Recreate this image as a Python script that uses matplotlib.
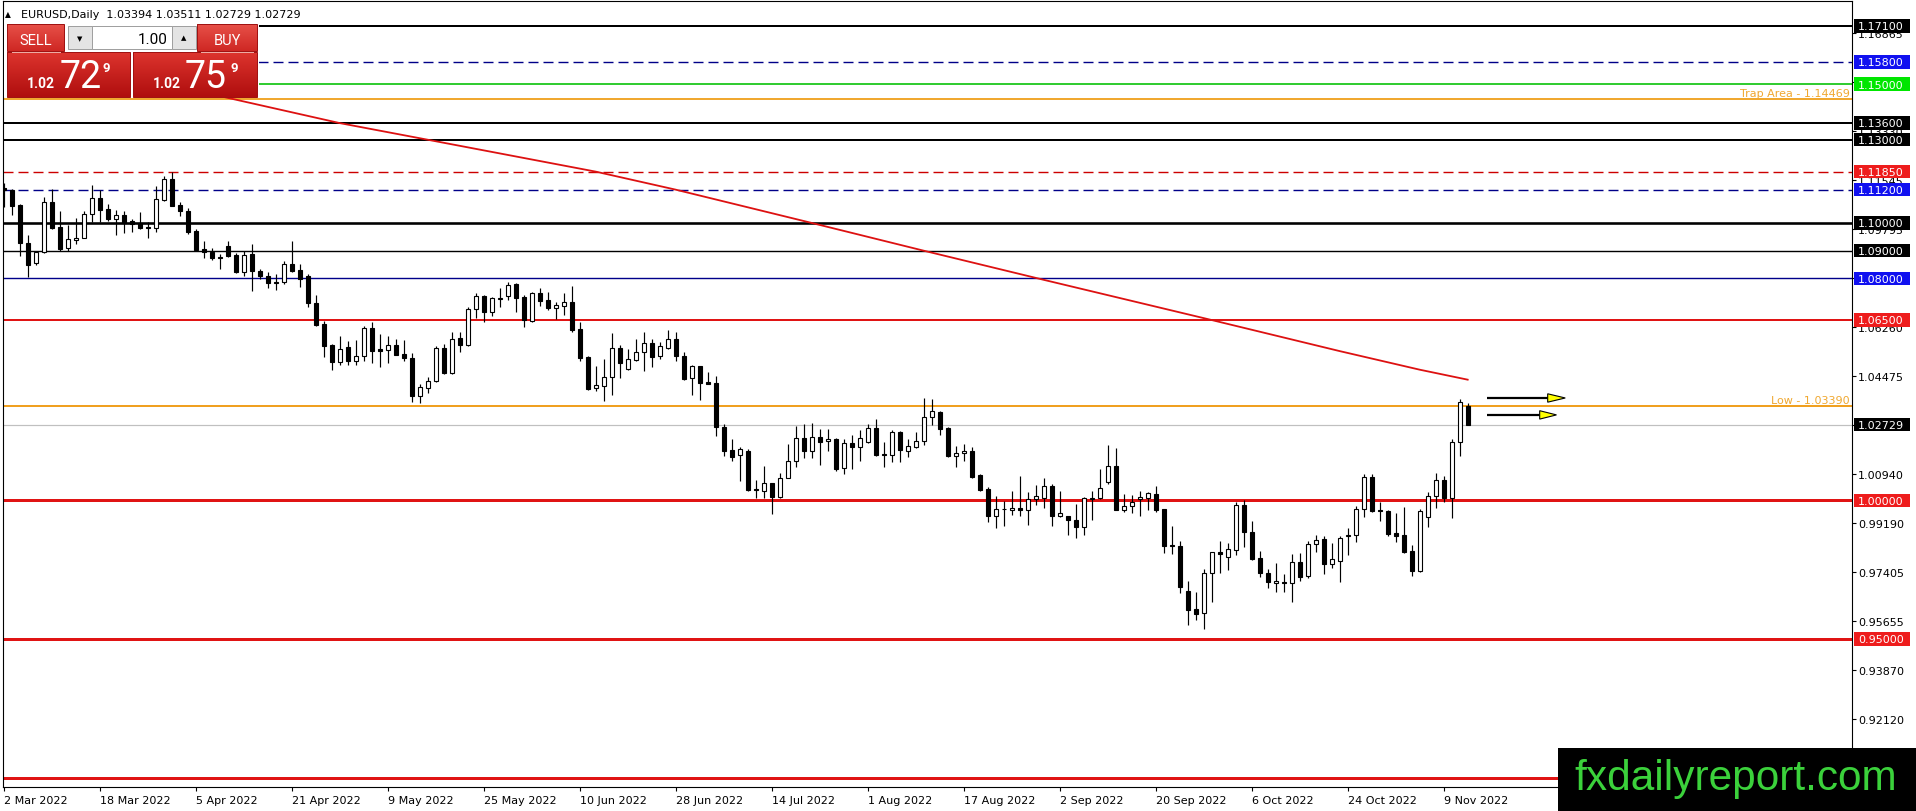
import matplotlib
matplotlib.use("Agg")
import matplotlib.pyplot as plt
import matplotlib.transforms as mtransforms
from matplotlib.patches import Rectangle, Polygon
import numpy as np

# ------------------------------------------------------------------ data
symbol_header = "EURUSD,Daily  1.03394 1.03511 1.02729 1.02729"

opens = [1.1125, 1.1119, 1.1066, 1.0928, 1.0854, 1.0894, 1.1074, 1.0984, 1.0911, 1.0940,
         1.0946, 1.1031, 1.1090, 1.1050, 1.1016, 1.1028, 1.1007, 1.0998, 1.0985, 1.0981,
         1.1084, 1.1158, 1.1065, 1.1042, 1.0971, 1.0906, 1.0896, 1.0877, 1.0918, 1.0884,
         1.0824, 1.0888, 1.0828, 1.0808, 1.0788, 1.0786, 1.0852, 1.0830, 1.0808, 1.0711,
         1.0636, 1.0561, 1.0498, 1.0552, 1.0504, 1.0519, 1.0620, 1.0546, 1.0543, 1.0560,
         1.0528, 1.0512, 1.0377, 1.0405, 1.0432, 1.0548, 1.0459, 1.0585, 1.0561, 1.0690,
         1.0736, 1.0679, 1.0727, 1.0735, 1.0780, 1.0732, 1.0648, 1.0747, 1.0722, 1.0692,
         1.0702, 1.0716, 1.0618, 1.0518, 1.0404, 1.0413, 1.0444, 1.0548, 1.0473, 1.0507,
         1.0534, 1.0566, 1.0519, 1.0549, 1.0582, 1.0519, 1.0440, 1.0483, 1.0425, 1.0422,
         1.0263, 1.0182, 1.0164, 1.0179, 1.0041, 1.0035, 1.0061, 1.0013, 1.0080, 1.0142,
         1.0224, 1.0179, 1.0227, 1.0213, 1.0221, 1.0115, 1.0206, 1.0194, 1.0212, 1.0260,
         1.0167, 1.0164, 1.0248, 1.0179, 1.0194, 1.0213, 1.0299, 1.0317, 1.0260, 1.0161,
         1.0171, 1.0178, 1.0091, 1.0041, 0.9942, 0.9967, 0.9964, 0.9972, 0.9965, 1.0005,
         1.0010, 1.0050, 0.9942, 0.9942, 0.9930, 0.9903, 1.0005, 1.0007, 1.0065, 1.0123,
         0.9966, 0.9978, 1.0005, 1.0010, 1.0022, 0.9969, 0.9839, 0.9837, 0.9672, 0.9608,
         0.9593, 0.9738, 0.9813, 0.9797, 0.9822, 0.9983, 0.9885, 0.9791, 0.9738, 0.9701,
         0.9706, 0.9702, 0.9777, 0.9726, 0.9843, 0.9861, 0.9771, 0.9783, 0.9873, 0.9875,
         0.9969, 1.0083, 0.9965, 0.9963, 0.9882, 0.9875, 0.9816, 0.9747, 0.9939, 1.0017,
         1.0073, 1.0009, 1.0209, 1.03394]

highs = [1.1144, 1.1122, 1.1068, 1.0957, 1.0897, 1.1092, 1.1122, 1.1042, 1.0993, 1.1017,
         1.1044, 1.1137, 1.1120, 1.1068, 1.1047, 1.1044, 1.1014, 1.1038, 1.1002, 1.1134,
         1.1170, 1.1182, 1.1077, 1.1053, 1.0978, 1.0936, 1.0909, 1.0888, 1.0936, 1.0893,
         1.0900, 1.0924, 1.0834, 1.0822, 1.0816, 1.0864, 1.0936, 1.0852, 1.0816, 1.0740,
         1.0648, 1.0563, 1.0591, 1.0576, 1.0579, 1.0630, 1.0642, 1.0600, 1.0591, 1.0582,
         1.0579, 1.0530, 1.0420, 1.0444, 1.0558, 1.0563, 1.0606, 1.0606, 1.0696, 1.0748,
         1.0740, 1.0732, 1.0764, 1.0786, 1.0782, 1.0740, 1.0750, 1.0764, 1.0750, 1.0714,
         1.0747, 1.0774, 1.0642, 1.0519, 1.0486, 1.0510, 1.0603, 1.0560, 1.0546, 1.0582,
         1.0608, 1.0582, 1.0572, 1.0614, 1.0608, 1.0534, 1.0488, 1.0484, 1.0462, 1.0447,
         1.0275, 1.0221, 1.0194, 1.0185, 1.0073, 1.0123, 1.0063, 1.0098, 1.0203, 1.0267,
         1.0275, 1.0279, 1.0257, 1.0257, 1.0224, 1.0221, 1.0236, 1.0254, 1.0275, 1.0293,
         1.0209, 1.0254, 1.0251, 1.0221, 1.0248, 1.0369, 1.0365, 1.0323, 1.0263, 1.0197,
         1.0203, 1.0191, 1.0095, 1.0047, 1.0017, 0.9999, 1.0035, 1.0087, 1.0029, 1.0055,
         1.0079, 1.0059, 1.0034, 0.9943, 0.9987, 1.0011, 1.0035, 1.0113, 1.0200, 1.0188,
         1.0023, 1.0019, 1.0035, 1.0029, 1.0051, 0.9969, 0.9909, 0.9852, 0.9708, 0.9671,
         0.9753, 0.9815, 0.9852, 0.9845, 0.9993, 1.0001, 0.9927, 0.9816, 0.9753, 0.9774,
         0.9735, 0.9807, 0.9810, 0.9855, 0.9875, 0.9873, 0.9846, 0.9873, 0.9900, 0.9979,
         1.0095, 1.0095, 0.9993, 0.9965, 0.9954, 0.9977, 0.9840, 0.9969, 1.0031, 1.0099,
         1.0087, 1.0221, 1.0365, 1.03511]

lows = [1.1056, 1.1029, 1.0882, 1.0804, 1.0848, 1.0890, 1.0978, 1.0900, 1.0900, 1.0924,
        1.0945, 1.1002, 1.1002, 1.1006, 1.0958, 1.0964, 1.0966, 1.0979, 1.0945, 1.0969,
        1.1080, 1.1060, 1.1026, 1.0960, 1.0900, 1.0872, 1.0865, 1.0834, 1.0879, 1.0820,
        1.0808, 1.0756, 1.0798, 1.0766, 1.0760, 1.0780, 1.0822, 1.0770, 1.0696, 1.0627,
        1.0516, 1.0471, 1.0489, 1.0489, 1.0489, 1.0504, 1.0494, 1.0482, 1.0495, 1.0524,
        1.0504, 1.0353, 1.0350, 1.0387, 1.0426, 1.0455, 1.0455, 1.0534, 1.0557, 1.0656,
        1.0642, 1.0663, 1.0696, 1.0723, 1.0678, 1.0626, 1.0644, 1.0702, 1.0687, 1.0654,
        1.0669, 1.0608, 1.0504, 1.0399, 1.0395, 1.0359, 1.0380, 1.0441, 1.0471, 1.0504,
        1.0468, 1.0482, 1.0510, 1.0546, 1.0504, 1.0435, 1.0380, 1.0363, 1.0419, 1.0233,
        1.0161, 1.0143, 1.0071, 1.0033, 1.0007, 1.0007, 0.9951, 1.0007, 1.0079, 1.0119,
        1.0154, 1.0153, 1.0128, 1.0179, 1.0107, 1.0095, 1.0113, 1.0143, 1.0206, 1.0161,
        1.0121, 1.0137, 1.0140, 1.0158, 1.0189, 1.0201, 1.0273, 1.0237, 1.0155, 1.0121,
        1.0143, 1.0080, 1.0033, 0.9923, 0.9899, 0.9909, 0.9948, 0.9945, 0.9912, 0.9983,
        0.9971, 0.9909, 0.9940, 0.9875, 0.9863, 0.9875, 0.9930, 1.0005, 1.0059, 0.9964,
        0.9957, 0.9954, 0.9945, 0.9966, 0.9957, 0.9810, 0.9807, 0.9666, 0.9552, 0.9570,
        0.9536, 0.9635, 0.9738, 0.9750, 0.9803, 0.9833, 0.9786, 0.9725, 0.9683, 0.9671,
        0.9668, 0.9632, 0.9711, 0.9719, 0.9813, 0.9735, 0.9755, 0.9705, 0.9804, 0.9849,
        0.9939, 0.9957, 0.9927, 0.9873, 0.9851, 0.9810, 0.9729, 0.9741, 0.9905, 0.9971,
        0.9993, 0.9935, 1.0161, 1.02729]

closes = [1.1118, 1.1062, 1.0928, 1.0850, 1.0894, 1.1074, 1.0982, 1.0906, 1.0942, 1.0946,
          1.1032, 1.1089, 1.1048, 1.1014, 1.1027, 1.0999, 1.0995, 1.0981, 1.0981, 1.1086,
          1.1158, 1.1062, 1.1044, 1.0969, 1.0904, 1.0894, 1.0875, 1.0874, 1.0882, 1.0824,
          1.0885, 1.0828, 1.0810, 1.0782, 1.0784, 1.0852, 1.0828, 1.0798, 1.0710, 1.0633,
          1.0558, 1.0498, 1.0546, 1.0504, 1.0519, 1.0620, 1.0540, 1.0540, 1.0560, 1.0525,
          1.0512, 1.0377, 1.0408, 1.0432, 1.0548, 1.0458, 1.0582, 1.0561, 1.0690, 1.0736,
          1.0678, 1.0728, 1.0730, 1.0778, 1.0730, 1.0651, 1.0747, 1.0717, 1.0692, 1.0704,
          1.0714, 1.0614, 1.0513, 1.0401, 1.0416, 1.0444, 1.0548, 1.0494, 1.0510, 1.0534,
          1.0566, 1.0518, 1.0555, 1.0582, 1.0519, 1.0437, 1.0483, 1.0424, 1.0421, 1.0263,
          1.0179, 1.0158, 1.0185, 1.0039, 1.0036, 1.0061, 1.0013, 1.0079, 1.0142, 1.0224,
          1.0179, 1.0227, 1.0212, 1.0220, 1.0113, 1.0206, 1.0194, 1.0224, 1.0260, 1.0164,
          1.0164, 1.0248, 1.0183, 1.0195, 1.0213, 1.0299, 1.0321, 1.0257, 1.0159, 1.0170,
          1.0178, 1.0085, 1.0039, 0.9942, 0.9969, 0.9969, 0.9972, 0.9964, 1.0005, 1.0014,
          1.0053, 0.9945, 0.9953, 0.9930, 0.9903, 1.0007, 1.0008, 1.0043, 1.0123, 0.9966,
          0.9978, 0.9995, 1.0013, 1.0027, 0.9966, 0.9837, 0.9834, 0.9689, 0.9606, 0.9590,
          0.9738, 0.9813, 0.9806, 0.9825, 0.9983, 0.9885, 0.9789, 0.9737, 0.9705, 0.9709,
          0.9702, 0.9777, 0.9723, 0.9843, 0.9858, 0.9771, 0.9789, 0.9863, 0.9875, 0.9969,
          1.0083, 0.9963, 0.9961, 0.9879, 0.9873, 0.9813, 0.9747, 0.9960, 1.0017, 1.0073,
          1.0009, 1.0209, 1.0353, 1.02729]

date_label_bars = [0, 12, 24, 36, 48, 60, 72, 84, 96, 108, 120, 132, 144, 156, 168, 180]
date_labels = ["2 Mar 2022", "18 Mar 2022", "5 Apr 2022", "21 Apr 2022", "9 May 2022",
               "25 May 2022", "10 Jun 2022", "28 Jun 2022", "14 Jul 2022", "1 Aug 2022",
               "17 Aug 2022", "2 Sep 2022", "20 Sep 2022", "6 Oct 2022", "24 Oct 2022",
               "9 Nov 2022"]

price_ticks = [0.92120, 0.93870, 0.95655, 0.97405, 0.99190, 1.00940, 1.02725, 1.04475,
               1.06260, 1.08010, 1.09795, 1.11545, 1.13330, 1.15080, 1.16865]

ma_bars = [20, 30, 42, 53, 74, 84, 101, 115, 130, 151, 167, 177, 183]
ma_values = [1.1503, 1.1438, 1.1360, 1.1300, 1.1185, 1.1120, 1.1000, 1.0900, 1.0795,
             1.0650, 1.0538, 1.0471, 1.0435]

level_prices = [1.17100, 1.15800, 1.15000, 1.14469, 1.13600, 1.13000, 1.11850, 1.11200,
                1.10000, 1.09000, 1.08000, 1.06500, 1.03390, 1.02729, 1.00000, 0.95000,
                0.90000]
level_colors = ["#000000", "#000088", "#33cc33", "#f0a830", "#000000", "#000000", "#cc0000",
                "#000088", "#000000", "#000000", "#00008a", "#e01414", "#f0a020", "#c0c0c0",
                "#e01414", "#e01414", "#e01414"]
level_widths_px = [2, 1.4, 2, 2, 2, 2, 1.4, 1.4, 2.6, 1.4, 1.4, 2, 2, 1.2, 3, 3, 3]
level_dashed = [False, True, False, False, False, False, True, True, False, False, False,
                False, False, False, False, False, False]
level_boxes = ["#000000", "#1010f0", "#00e600", None, "#000000", "#000000", "#ee1c1c",
               "#1010f0", "#000000", "#000000", "#1010f0", "#ee1c1c", None, "#000000",
               "#ee1c1c", "#ee1c1c", None]

annot_texts = ["Trap Area - 1.14469", "Low - 1.03390"]
annot_prices = [1.14469, 1.03390]

arrow_prices = [1.0369, 1.0308]
arrow_start = 185.4
arrow_base = [193.0, 192.0]
arrow_tip = [195.2, 194.1]

sell_quote = ["1.02", "72", "9"]
buy_quote = ["1.02", "75", "9"]
lot_size = "1.00"
watermark = "fxdailyreport.com"

# ------------------------------------------------------------------ layout
W, H, DPI = 1916, 812, 100
PL, PR, PT, PB = 3, 1852, 2, 788          # plot frame in pixels
PX = 2774.0                               # pixels per price unit

fig = plt.figure(figsize=(W / DPI, H / DPI), dpi=DPI)
fig.patch.set_facecolor("white")
ax = fig.add_axes([PL / W, 1 - PB / H, (PR - PL) / W, (PB - PT) / H])
ax.set_facecolor("white")
ax.set_xlim(-0.0875, 231.04)
ax.set_ylim(0.89666, 1.18001)

# ------------------------------------------------------------------ levels
for p, col, wpx, dsh in zip(level_prices, level_colors, level_widths_px, level_dashed):
    lw = wpx * 0.72
    if dsh:
        ls = (0, (7.2 / lw, 3.6 / lw))
    else:
        ls = "-"
    ax.axhline(p, color=col, lw=lw, linestyle=ls, zorder=2)

# ------------------------------------------------------------------ candles
o = np.array(opens); hi = np.array(highs); lo = np.array(lows); c = np.array(closes)
xs = np.arange(len(o))
up = c >= o
body_lo = np.minimum(o, c)
body_h = np.maximum(np.abs(c - o), 0.6 / PX)
ax.vlines(xs, lo, hi, color="black", lw=0.85, zorder=3)
ax.bar(xs[up], body_h[up], bottom=body_lo[up], width=0.5, facecolor="white",
       edgecolor="black", linewidth=0.8, zorder=4)
ax.bar(xs[~up], body_h[~up], bottom=body_lo[~up], width=0.5, facecolor="black",
       edgecolor="black", linewidth=0.8, zorder=4)

# moving average
ax.plot(ma_bars, ma_values, color="#dd1111", lw=1.3, zorder=5)

# annotations on levels
blend = mtransforms.blended_transform_factory(ax.transAxes, ax.transData)
for txt, p in zip(annot_texts, annot_prices):
    ax.annotate(txt, xy=(1.0, p), xycoords=blend, xytext=(-2, 1),
                textcoords="offset pixels", ha="right", va="bottom",
                color="#f0a830", fontsize=8, zorder=6)

# arrows
hh = 4.2 / PX
for yv, b, t in zip(arrow_prices, arrow_base, arrow_tip):
    ax.plot([arrow_start, b], [yv, yv], color="black", lw=1.6, zorder=6,
            solid_capstyle="butt")
    ax.add_patch(Polygon([[b, yv - hh], [b, yv + hh], [t, yv]], closed=True,
                         facecolor="#ffff00", edgecolor="black", lw=0.8, zorder=7))

# ------------------------------------------------------------------ axes styling
for s in ax.spines.values():
    s.set_linewidth(0.8)
    s.set_color("black")
ax.yaxis.tick_right()
ax.set_yticks(price_ticks)
ax.set_yticklabels([f"{v:.5f}" for v in price_ticks])
ax.tick_params(axis="y", direction="out", length=2.9, width=0.8, pad=1.5,
               labelsize=8, colors="black")
ax.set_xticks(date_label_bars)
ax.set_xticklabels(date_labels)
for lab in ax.get_xticklabels():
    lab.set_horizontalalignment("left")
ax.tick_params(axis="x", direction="out", length=2.9, width=0.8, pad=3,
               labelsize=8, colors="black")

# price label boxes on the right scale
bx0 = (1854 - PL) / (PR - PL)
bw = 56 / (PR - PL)
bh = 13.5 / PX
for p, box in zip(level_prices, level_boxes):
    if box is None:
        continue
    ax.add_patch(Rectangle((bx0, p - bh / 2), bw, bh, transform=blend, facecolor=box,
                           edgecolor="none", clip_on=False, zorder=10))
    ax.text((1858 - PL) / (PR - PL), p - 0.4 / PX, f"{p:.5f}", transform=blend,
            color="white", fontsize=8, va="center", ha="left", zorder=11, clip_on=False)

# ------------------------------------------------------------------ overlay (pixel coords)
ov = fig.add_axes([0, 0, 1, 1], zorder=5)
ov.axis("off")


def grad_rect(x0, y0, w, h, top, bottom):
    g = np.linspace(0, 1, 40)[:, None, None]
    t = np.array(top, float)[None, None, :] / 255
    b = np.array(bottom, float)[None, None, :] / 255
    img = t * (1 - g) + b * g
    ov.imshow(img, extent=(x0, x0 + w, y0 + h, y0), aspect="auto",
              interpolation="bilinear", zorder=2)
    ov.add_patch(Rectangle((x0, y0), w, h, fill=False, edgecolor="#a01212",
                           lw=0.72, zorder=3))


# header
ov.text(5, 17.5, "\u25B2", fontsize=5.5, va="baseline", ha="left", color="black")
ov.text(21, 17.5, symbol_header, fontsize=8, va="baseline", ha="left", color="black")

# one-click trading panel
ov.add_patch(Rectangle((4, 21), 255, 77, facecolor="white", edgecolor="none", zorder=1))
grad_rect(7, 25, 57, 27, (232, 80, 72), (206, 40, 36))
grad_rect(197, 25, 60, 27, (232, 80, 72), (206, 40, 36))
grad_rect(7, 53, 123, 45, (220, 52, 46), (176, 14, 14))
grad_rect(133, 53, 124, 45, (220, 52, 46), (176, 14, 14))
ov.plot([12, 60], [52.5, 52.5], color="#f0b0a8", lw=0.7, zorder=4)
ov.plot([201, 253], [52.5, 52.5], color="#f0b0a8", lw=0.7, zorder=4)
ov.add_patch(Rectangle((68, 27), 24, 23, facecolor="#e4e4e4", edgecolor="#a0a0a0",
                       lw=0.72, zorder=3))
ov.add_patch(Rectangle((92, 27), 80, 23, facecolor="white", edgecolor="#a0a0a0",
                       lw=0.72, zorder=3))
ov.add_patch(Rectangle((172, 27), 24, 23, facecolor="#e4e4e4", edgecolor="#a0a0a0",
                       lw=0.72, zorder=3))
ov.text(80, 39, "\u25BC", fontsize=5, ha="center", va="center", color="black", zorder=5)
ov.text(184, 38, "\u25B2", fontsize=5, ha="center", va="center", color="black", zorder=5)
ov.text(168, 43.5, lot_size, fontsize=11, ha="right", va="baseline", color="black",
        family="Roboto", zorder=5)
ov.text(35.5, 45, "SELL", fontsize=10.5, ha="center", va="baseline", color="white",
        family="Roboto", zorder=5)
ov.text(227, 45, "BUY", fontsize=10.5, ha="center", va="baseline", color="white",
        family="Roboto", zorder=5)
for (xs_, xb_, xn_), q in zip([(41, 81, 106), (167, 206, 234)], [sell_quote, buy_quote]):
    ov.text(xs_, 87.5, q[0], fontsize=10, fontweight="bold", ha="center", va="baseline",
            color="white", family="Roboto", zorder=5)
    ov.text(xb_, 87.5, q[1], fontsize=27, fontweight="normal", ha="center", va="baseline",
            color="white", family="Roboto", zorder=5)
    ov.text(xn_, 72, q[2], fontsize=9.5, fontweight="bold", ha="center", va="baseline",
            color="white", family="Roboto", zorder=5)

# watermark
ov.add_patch(Rectangle((1558, 749), W - 1558, H - 749, facecolor="black",
                       edgecolor="none", zorder=6))
ov.text(1736, 790, watermark, fontsize=30.5, family="Liberation Sans", ha="center",
        va="baseline", color="#3bd13b", zorder=7)

ov.set_xlim(0, W)
ov.set_ylim(H, 0)

fig.savefig("out.png", dpi=DPI, facecolor="white")
